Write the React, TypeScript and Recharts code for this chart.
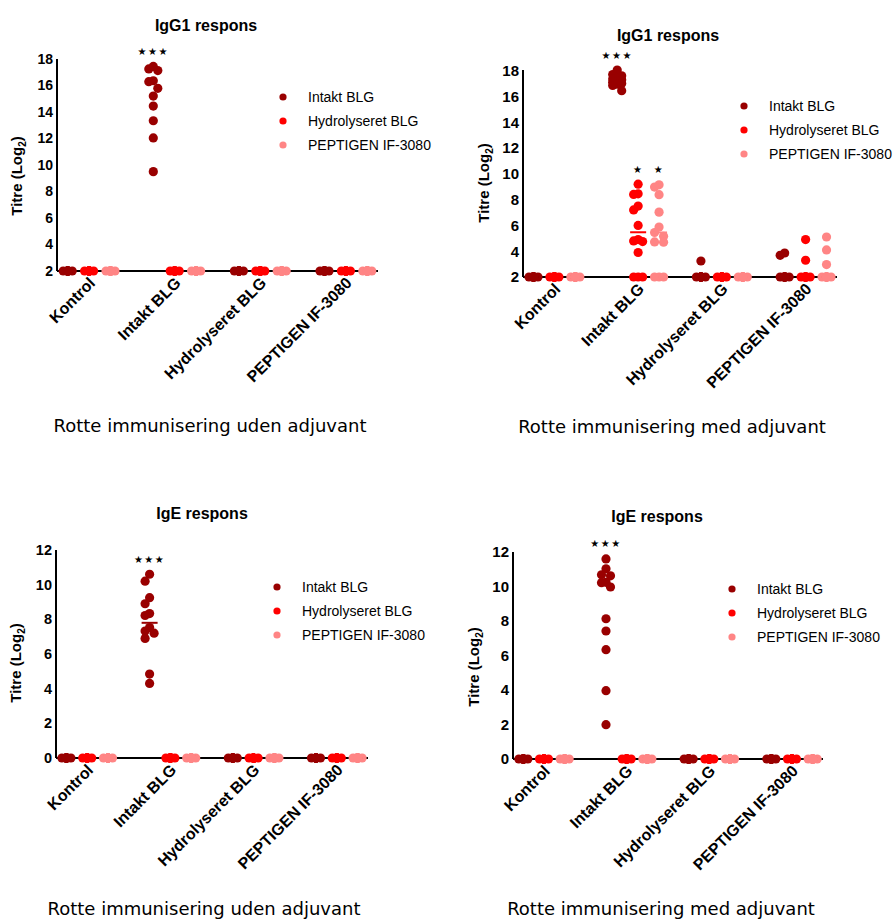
import React from 'react';
import { ScatterChart, Scatter, XAxis, YAxis, Legend } from 'recharts';

// ---------- categories / series ----------
const GROUPS = ['Kontrol', 'Intakt BLG', 'Hydrolyseret BLG', 'PEPTIGEN IF-3080'];
const SERIES = ['Intakt BLG', 'Hydrolyseret BLG', 'PEPTIGEN IF-3080'];
const COLORS = ['#990000', '#FF0000', '#FF8585'];

// ---------- tick labels ----------
const IGG1_TICKS = [2, 4, 6, 8, 10, 12, 14, 16, 18];
const IGE_TICKS = [0, 2, 4, 6, 8, 10, 12];

// ---------- values (per series, per group) ----------
const BASE2 = [2, 2, 2, 2, 2, 2, 2, 2, 2, 2, 2, 2];
const BASE0 = [0, 0, 0, 0, 0, 0, 0, 0, 0, 0, 0, 0];

// IgG1, uden adjuvant
const A_INTAKT = [BASE2, [17.44, 17.25, 17.13, 16.36, 16.29, 15.79, 15.2, 14.45, 13.34, 12.04, 9.5], BASE2, BASE2];
const A_HYDRO = [BASE2, BASE2, BASE2, BASE2];
const A_PEPT = [BASE2, BASE2, BASE2, BASE2];

// IgG1, med adjuvant
const B_INTAKT = [
  BASE2,
  [18.05, 17.7, 17.6, 17.45, 17.35, 17.3, 17.15, 17.1, 17.0, 16.95, 16.85, 16.45],
  [3.24, 2, 2, 2, 2, 2, 2, 2, 2, 2, 2, 2],
  [3.86, 3.68, 2, 2, 2, 2, 2, 2, 2, 2, 2, 2],
];
const B_HYDRO = [
  BASE2,
  [9.2, 8.45, 8.4, 7.5, 7.2, 6.0, 4.9, 4.8, 4.75, 3.9, 2, 2, 2],
  BASE2,
  [4.9, 3.3, 2, 2, 2, 2, 2, 2, 2, 2, 2, 2],
];
const B_PEPT = [
  BASE2,
  [9.15, 8.97, 8.38, 7.03, 5.87, 5.45, 5.15, 4.72, 4.7, 2, 2, 2],
  BASE2,
  [5.1, 4.1, 2.96, 2, 2, 2, 2, 2, 2, 2, 2, 2],
];

// IgE, uden adjuvant
const C_INTAKT = [BASE0, [10.6, 10.2, 9.25, 8.9, 8.33, 8.22, 7.53, 7.32, 7.2, 6.9, 4.84, 4.3], BASE0, BASE0];
const C_HYDRO = [BASE0, BASE0, BASE0, BASE0];
const C_PEPT = [BASE0, BASE0, BASE0, BASE0];

// IgE, med adjuvant
const D_INTAKT = [BASE0, [11.6, 11.03, 10.68, 10.62, 10.24, 10.22, 9.97, 8.13, 7.42, 6.34, 3.96, 1.99], BASE0, BASE0];
const D_HYDRO = [BASE0, BASE0, BASE0, BASE0];
const D_PEPT = [BASE0, BASE0, BASE0, BASE0];

// significance marks and mean lines
const A_STARS = [{ group: 1, series: 0, text: '★★★' }];
const B_STARS = [
  { group: 1, series: 0, text: '★★★' },
  { group: 1, series: 1, text: '★' },
  { group: 1, series: 2, text: '★' },
];
const C_STARS = [{ group: 1, series: 0, text: '★★★' }];
const D_STARS = [{ group: 1, series: 0, text: '★★★' }];
const B_MEANS = [{ group: 1, series: 1 }, { group: 1, series: 2 }];
const C_MEANS = [{ group: 1, series: 0 }];

// ---------- layout ----------
const SANS = "'Liberation Sans', Arial, sans-serif";
const CAPTION_FONT = "'Comic Sans MS', 'DejaVu Sans', sans-serif";
const DOT_R = 4.6;
const STEP = 4.5;
const MIN_D = 8;
const X_DOMAIN = [-0.5, 14.5];

const PANELS = [
  {
    title: 'IgG1 respons', caption: 'Rotte immunisering uden adjuvant',
    series: [A_INTAKT, A_HYDRO, A_PEPT], stars: A_STARS, means: [],
    ox: 0, oy: 0, w: 450, h: 460, plot: { l: 57, r: 378, t: 59, b: 271 },
    domain: [2, 18], ticks: IGG1_TICKS, tickFont: 14,
    titlePos: [206, 26], ylabelPos: [18, 176], captionPos: [210, 425], legendPos: [276, 85],
  },
  {
    title: 'IgG1 respons', caption: 'Rotte immunisering med adjuvant',
    series: [B_INTAKT, B_HYDRO, B_PEPT], stars: B_STARS, means: B_MEANS,
    ox: 450, oy: 0, w: 443, h: 460, plot: { l: 73, r: 387, t: 70, b: 277 },
    domain: [2, 18], ticks: IGG1_TICKS, tickFont: 15,
    titlePos: [668, 36], ylabelPos: [485, 183], captionPos: [672, 426], legendPos: [737, 94],
  },
  {
    title: 'IgE respons', caption: 'Rotte immunisering uden adjuvant',
    series: [C_INTAKT, C_HYDRO, C_PEPT], stars: C_STARS, means: C_MEANS,
    ox: 0, oy: 470, w: 450, h: 450, plot: { l: 56, r: 368, t: 80, b: 288 },
    domain: [0, 12], ticks: IGE_TICKS, tickFont: 14.5,
    titlePos: [202, 514], ylabelPos: [17, 663], captionPos: [204, 908], legendPos: [270, 575],
  },
  {
    title: 'IgE respons', caption: 'Rotte immunisering med adjuvant',
    series: [D_INTAKT, D_HYDRO, D_PEPT], stars: D_STARS, means: [],
    ox: 450, oy: 470, w: 443, h: 450, plot: { l: 63, r: 373, t: 82, b: 289 },
    domain: [0, 12], ticks: IGE_TICKS, tickFont: 15,
    titlePos: [657, 517], ylabelPos: [475, 667], captionPos: [661, 908], legendPos: [725, 577],
  },
];

// horizontal spreading of overlapping points (beeswarm-like), in pixels
function swarm(values: number[], k: number): number[] {
  const order = values.map((_, i) => i).sort((a, b) => values[b] - values[a]);
  const placed: { x: number; y: number }[] = [];
  const dx = values.map(() => 0);
  for (const i of order) {
    const y = -values[i] * k;
    let best = 0;
    let bestD = -1;
    for (const c of [0, -STEP, STEP]) {
      let m = Infinity;
      for (const p of placed) m = Math.min(m, Math.hypot(p.x - c, p.y - y));
      if (m >= MIN_D) { best = c; break; }
      if (m > bestD) { bestD = m; best = c; }
    }
    placed.push({ x: best, y });
    dx[i] = best;
  }
  return dx;
}

const col = (g: number, s: number) => g * 4 + s;

function CatTick(props: any) {
  const { x, y, payload } = props;
  const label = GROUPS[Math.round((payload.value - 1) / 4)];
  return (
    <text
      transform={`translate(${x + 7},${y + 13}) rotate(-45)`}
      textAnchor="end"
      fontFamily={SANS}
      fontWeight="bold"
      fontSize={16}
      fill="#000"
    >
      {label}
    </text>
  );
}

function LegendBox() {
  return (
    <div style={{ fontFamily: SANS, fontSize: 14, color: '#000' }}>
      {SERIES.map((name, i) => (
        <div key={name} style={{ display: 'flex', alignItems: 'center', height: 24, whiteSpace: 'nowrap' }}>
          <svg width={14} height={14} style={{ marginRight: 18 }}>
            <circle cx={7} cy={7} r={3.6} fill={COLORS[i]} />
          </svg>
          <span>{name}</span>
        </div>
      ))}
    </div>
  );
}

function Panel({ p }: { p: any }) {
  const plotH = p.plot.b - p.plot.t;
  const k = plotH / (p.domain[1] - p.domain[0]);
  const yAxisW = 40;
  const xAxisH = 100;
  const margin = { top: p.plot.t, left: p.plot.l - yAxisW, right: p.w - p.plot.r, bottom: p.h - p.plot.b - xAxisH };

  const seriesData = p.series.map((groups: number[][], s: number) => {
    const pts: any[] = [];
    groups.forEach((vals: number[], g: number) => {
      const dx = swarm(vals, k);
      vals.forEach((v, i) => pts.push({ x: col(g, s), y: v, dx: dx[i] }));
    });
    return pts;
  });

  // x-axis baseline, drawn first so the dots sit on top of it
  const baseline = [
    { x: X_DOMAIN[0], y: p.domain[0] },
    { x: X_DOMAIN[1], y: p.domain[0] },
  ];

  const starData = p.stars.map((st: any) => {
    const vals: number[] = p.series[st.series][st.group];
    return { x: col(st.group, st.series), y: Math.max(...vals), text: st.text };
  });

  const meanData = p.means.map((m: any) => {
    const vals: number[] = p.series[m.series][m.group];
    return { x: col(m.group, m.series), y: vals.reduce((a, b) => a + b, 0) / vals.length, color: COLORS[m.series] };
  });

  return (
    <>
      <div style={{ position: 'absolute', left: p.ox, top: p.oy, width: p.w, height: p.h }}>
        <ScatterChart width={p.w} height={p.h} margin={margin}>
          <XAxis
            type="number"
            dataKey="x"
            domain={X_DOMAIN}
            ticks={[1, 5, 9, 13]}
            interval={0}
            tickLine={false}
            tickSize={0}
            tickMargin={0}
            height={xAxisH}
            axisLine={false}
            tick={<CatTick />}
          />
          <YAxis
            type="number"
            dataKey="y"
            domain={p.domain}
            ticks={p.ticks}
            interval={0}
            width={yAxisW}
            tickLine={false}
            tickSize={0}
            tickMargin={4}
            axisLine={{ stroke: '#000', strokeWidth: 2 }}
            tick={{ fontFamily: SANS, fontWeight: 'bold', fontSize: p.tickFont, fill: '#000' }}
          />
          <Legend
            layout="horizontal"
            verticalAlign="middle"
            align="center"
            content={() => <LegendBox />}
            wrapperStyle={{ left: p.legendPos[0] - p.ox, top: p.legendPos[1] - p.oy, width: 'auto', height: 'auto' }}
          />
          <Scatter
            name="x-axis"
            legendType="none"
            data={baseline}
            isAnimationActive={false}
            line={{ stroke: '#000', strokeWidth: 2 }}
            lineType="joint"
            shape={() => <g />}
          />
          {seriesData.map((pts: any[], s: number) => (
            <Scatter
              key={SERIES[s]}
              name={SERIES[s]}
              data={pts}
              fill={COLORS[s]}
              isAnimationActive={false}
              shape={(sp: any) => <circle cx={sp.cx + sp.payload.dx} cy={sp.cy} r={DOT_R} fill={COLORS[s]} />}
            />
          ))}
          {meanData.length > 0 && (
            <Scatter
              name="mean"
              legendType="none"
              data={meanData}
              isAnimationActive={false}
              shape={(sp: any) => (
                <line x1={sp.cx - 8} x2={sp.cx + 8} y1={sp.cy} y2={sp.cy} stroke={sp.payload.color} strokeWidth={2} />
              )}
            />
          )}
          <Scatter
            name="stars"
            legendType="none"
            data={starData}
            isAnimationActive={false}
            shape={(sp: any) => (
              <text
                x={sp.cx}
                y={sp.cy - 15}
                textAnchor="middle"
                dominantBaseline="central"
                fontFamily="'DejaVu Sans', sans-serif"
                fontSize={10}
                letterSpacing={1.5}
                fill="#000"
              >
                {sp.payload.text}
              </text>
            )}
          />
        </ScatterChart>
      </div>
      <div
        style={{
          position: 'absolute', left: p.titlePos[0], top: p.titlePos[1], transform: 'translate(-50%,-50%)',
          fontFamily: SANS, fontWeight: 'bold', fontSize: 16, whiteSpace: 'nowrap', color: '#000',
        }}
      >
        {p.title}
      </div>
      <div
        style={{
          position: 'absolute', left: p.ylabelPos[0], top: p.ylabelPos[1], transform: 'translate(-50%,-50%) rotate(-90deg)',
          fontFamily: SANS, fontWeight: 'bold', fontSize: 15, whiteSpace: 'nowrap', color: '#000',
        }}
      >
        Titre (Log<sub style={{ fontSize: 10 }}>2</sub>)
      </div>
      <div
        style={{
          position: 'absolute', left: p.captionPos[0], top: p.captionPos[1], transform: 'translate(-50%,-50%)',
          fontFamily: CAPTION_FONT, fontSize: 18, whiteSpace: 'nowrap', color: '#000',
        }}
      >
        {p.caption}
      </div>
    </>
  );
}

export default function App() {
  return (
    <div style={{ position: 'absolute', left: 0, top: 0, width: 893, height: 920, background: '#fff', overflow: 'hidden' }}>
      {PANELS.map((p, i) => (
        <Panel key={i} p={p} />
      ))}
    </div>
  );
}
